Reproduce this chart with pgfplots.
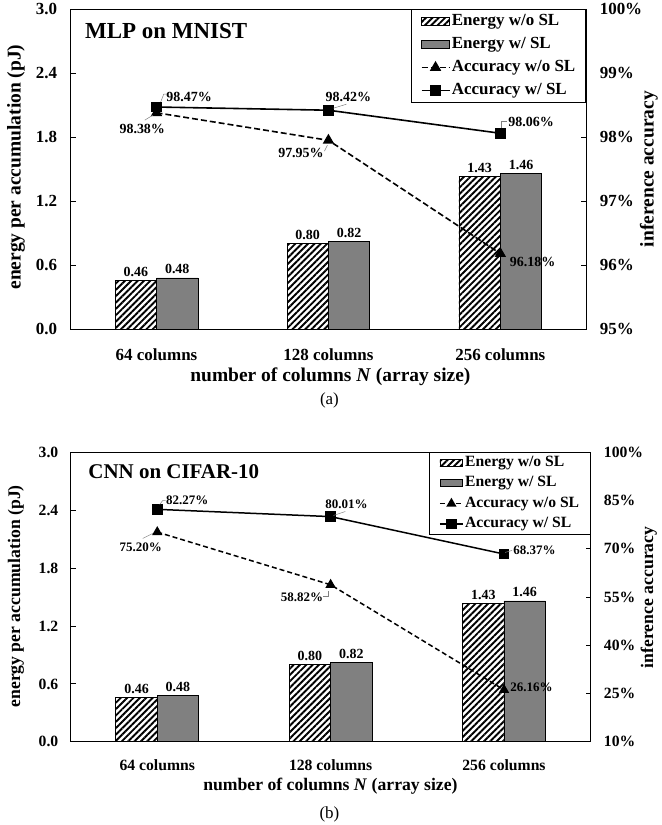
\documentclass[border=0pt]{standalone}
\usepackage{fontspec}
\setmainfont{Liberation Serif}
\usepackage{pgfplots}
\pgfplotsset{compat=1.18}
\usetikzlibrary{patterns.meta}
\definecolor{bargray}{RGB}{128,128,128}
\newcommand\fA{\fontsize{17}{20}\selectfont\bfseries}
\newcommand\fB{\fontsize{15.7}{18}\selectfont\bfseries}
\newcommand\lA{\fontsize{19.5}{22}\selectfont\bfseries}
\newcommand\lB{\fontsize{17.7}{20}\selectfont\bfseries}
\newcommand\dA{\fontsize{14}{16}\selectfont\bfseries}
\newcommand\dB{\fontsize{13}{15}\selectfont\bfseries}
\tikzset{
  hatchbar/.style={draw=black, line width=0.8pt, pattern={Lines[angle=45,distance=4.5pt,line width=1.9pt]}},
  graybar/.style={draw=black, line width=0.8pt, fill=bargray},
}
\pgfplotsset{
  base/.style={
    scale only axis, xmin=-0.5, xmax=2.5,
    axis line style={black, line width=1.1pt},
    tick style={black, line width=1pt},
    major tick length=5pt, tick align=inside,
  },
  linelegA/.style={legend image code/.code={\draw[mark repeat=2,mark phase=2,##1] plot coordinates {(0pt,0pt) (14pt,0pt) (28pt,0pt)};}},
  linelegB/.style={legend image code/.code={\draw[mark repeat=2,mark phase=2,##1] plot coordinates {(0pt,0pt) (11.5pt,0pt) (23pt,0pt)};}},
  barlegA/.style={legend image code/.code={\draw[#1] (0pt,-4pt) rectangle (28pt,4pt);}},
  barlegB/.style={legend image code/.code={\draw[#1] (0pt,-3.5pt) rectangle (23pt,3.5pt);}},
}
\begin{document}
\begin{tikzpicture}
\path (0pt,0pt) rectangle (660pt,825pt);
% ================= panel (a) =================
\begin{scope}[shift={(70.7pt,495.7pt)}]
\begin{axis}[base, width=516.6pt, height=320.6pt,
  ymin=0, ymax=3, ytick={0,0.6,1.2,1.8,2.4,3.0}, yticklabels={0.0,0.6,1.2,1.8,2.4,3.0},
  ytick pos=left, xtick={0,1,2}, xticklabels={64 columns,128 columns,256 columns},
  xtick style={draw=none},
  ticklabel style={font=\fA},
  xticklabel style={yshift=-11pt}, yticklabel style={xshift=-10pt},
  ybar=0pt, bar width=41.5pt,
  nodes near coords={\pgfmathprintnumber[fixed,fixed zerofill,precision=2,assume math mode=true]{\pgfplotspointmeta}},
  every node near coord/.append style={font=\dA, black},
]
\addplot[hatchbar] coordinates {(0,0.46) (1,0.80) (2,1.43)};
\addplot[graybar] coordinates {(0,0.48) (1,0.82) (2,1.46)};
\end{axis}
\begin{axis}[base, width=516.6pt, height=320.6pt,
  ymin=95, ymax=100, ytick={95,96,97,98,99,100}, yticklabels={95\%,96\%,97\%,98\%,99\%,100\%},
  axis y line*=right, axis x line=none, xtick=\empty,
  ticklabel style={font=\fA}, yticklabel style={xshift=10pt},
  legend style={at={(1,1)}, anchor=north east, draw=black, line width=1pt, font=\fA,
    inner xsep=9pt, inner ysep=0pt, row sep=0pt,
    nodes={inner xsep=1.5pt, inner ysep=3.6pt, text height=12pt, text depth=4pt},
    /tikz/every even column/.append style={column sep=0pt}},
  legend cell align=left,
]
\addlegendimage{barlegA={hatchbar}}
\addlegendimage{barlegA={graybar}}
\addplot[black, line width=1.6pt, dash pattern=on 6pt off 3pt, mark=triangle*, mark size=5pt, mark options={solid}, linelegA]
  coordinates {(0,98.38) (1,97.95) (2,96.18)};
\addplot[black, line width=1.6pt, mark=square*, mark size=4.5pt, linelegA]
  coordinates {(0,98.47) (1,98.42) (2,98.06)};
\legend{Energy w/o SL, Energy w/ SL, Accuracy w/o SL, Accuracy w/ SL}
\end{axis}
\end{scope}
% ================= panel (b) =================
\begin{scope}[shift={(70.7pt,82.3pt)}]
\begin{axis}[base, width=521pt, height=290pt,
  ymin=0, ymax=3, ytick={0,0.6,1.2,1.8,2.4,3.0}, yticklabels={0.0,0.6,1.2,1.8,2.4,3.0},
  ytick pos=left, xtick={0,1,2}, xticklabels={64 columns,128 columns,256 columns},
  xtick style={draw=none},
  ticklabel style={font=\fB},
  xticklabel style={yshift=-9.8pt}, yticklabel style={xshift=-8.8pt},
  ybar=0pt, bar width=41.5pt,
  nodes near coords={\pgfmathprintnumber[fixed,fixed zerofill,precision=2,assume math mode=true]{\pgfplotspointmeta}},
  every node near coord/.append style={font=\dA, black},
]
\addplot[hatchbar] coordinates {(0,0.46) (1,0.80) (2,1.43)};
\addplot[graybar] coordinates {(0,0.48) (1,0.82) (2,1.46)};
\end{axis}
\begin{axis}[base, width=521pt, height=290pt,
  ymin=10, ymax=100, ytick={10,25,40,55,70,85,100}, yticklabels={10\%,25\%,40\%,55\%,70\%,85\%,100\%},
  axis y line*=right, axis x line=none, xtick=\empty,
  ticklabel style={font=\fB}, yticklabel style={xshift=9.8pt},
  legend style={at={(1,1)}, anchor=north east, draw=black, line width=1pt, font=\fB,
    inner xsep=9.5pt, inner ysep=0pt, row sep=0pt,
    nodes={inner xsep=1.5pt, inner ysep=2.7pt, text height=11pt, text depth=4pt},
    /tikz/every even column/.append style={column sep=0pt}},
  legend cell align=left,
]
\addlegendimage{barlegB={hatchbar}}
\addlegendimage{barlegB={graybar}}
\addplot[black, line width=1.5pt, dash pattern=on 5pt off 3pt, mark=triangle*, mark size=4.5pt, mark options={solid}, linelegB]
  coordinates {(0,75.20) (1,58.82) (2,26.16)};
\addplot[black, line width=1.5pt, mark=square*, mark size=4.5pt, linelegB]
  coordinates {(0,82.27) (1,80.01) (2,68.37)};
\legend{Energy w/o SL, Energy w/ SL, Accuracy w/o SL, Accuracy w/ SL}
\end{axis}
\end{scope}
% ================= annotations =================
\begin{scope}[x=1pt,y=1pt]
\node[anchor=west, font=\fontsize{23}{26}\selectfont\bfseries] at (81.7,794) {MLP on MNIST};
\node[rotate=90, font=\lA] at (16,658) {energy per accumulation (pJ)};
\node[rotate=90, font=\lA] at (650,656) {inference accuracy};
\node[font=\lA] at (331,448) {number of columns \textit{N} (array size)};
\node[font=\fontsize{17}{20}\selectfont] at (330,424) {(a)};
\begin{scope}[every node/.style={font=\dA}]
\node at (189.5,728) {98.47\%};
\node at (142.5,696) {98.38\%};
\node at (301.5,672) {97.95\%};
\node at (349,728) {98.42\%};
\node at (532,703) {98.06\%};
\node at (533.6,563.3) {96.18\%};
\end{scope}
\begin{scope}[gray, line width=0.5pt]
\draw (161,723.3) -- (164,731) -- (167,731);
\draw (145,705) -- (153,710);
\draw (325,674) -- (328,680);
\draw (334,717) -- (347,721);
\draw (502,697) -- (502,704.3) -- (508,704.3);
\end{scope}
\node[anchor=west, font=\fontsize{21}{24}\selectfont\bfseries] at (85,353.3) {CNN on CIFAR-10};
\node[rotate=90, font=\lB] at (16,228) {energy per accumulation (pJ)};
\node[rotate=90, font=\lB] at (650,227) {inference accuracy};
\node[font=\lB] at (331,38) {number of columns \textit{N} (array size)};
\node[font=\fontsize{17}{20}\selectfont] at (330,10) {(b)};
\begin{scope}[every node/.style={font=\dB}]
\node at (187.5,324) {82.27\%};
\node at (141,277) {75.20\%};
\node at (302.5,227) {58.82\%};
\node at (347,320) {80.01\%};
\node at (535.5,274) {68.37\%};
\node at (532.5,137) {26.16\%};
\end{scope}
\begin{scope}[gray, line width=0.5pt]
\draw (160,320) -- (163,324) -- (166,324);
\draw (143,286) -- (153,291);
\draw (324,228) -- (329,228) -- (329,233);
\draw (334,309) -- (346,313);
\draw (506,272) -- (513,274);
\end{scope}
\end{scope}
\end{tikzpicture}
\end{document}
